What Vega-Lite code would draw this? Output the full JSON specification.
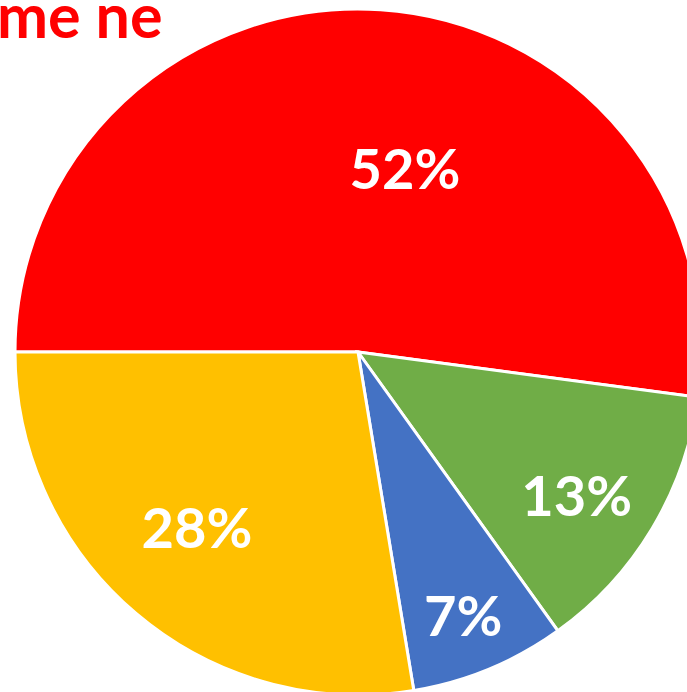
{
  "$schema": "https://vega.github.io/schema/vega-lite/v6.json",
  "width": 716,
  "height": 704,
  "autosize": "none",
  "padding": 0,
  "background": "white",
  "title": {"text": "me ne", "anchor": "start", "orient": "top", "frame": "group", "offset": -99, "baseline": "alphabetic", "dx": -3, "font": "Lato", "fontSize": 61, "fontWeight": "bold", "color": "#FF0000", "zindex": 1},
  "data": {"values": [
    {"cat": "A", "value": 0.521, "order": 1},
    {"cat": "B", "value": 0.130, "order": 2},
    {"cat": "C", "value": 0.073, "order": 3},
    {"cat": "D", "value": 0.276, "order": 4}
  ]},
  "encoding": {
    "theta": {"field": "value", "type": "quantitative", "stack": true, "scale": {"range": [4.71239, 10.99557]}},
    "order": {"field": "order", "type": "ordinal"}
  },
  "layer": [
    {
      "mark": {"type": "arc", "outerRadius": 343, "stroke": "white", "strokeWidth": 3},
      "encoding": {
        "color": {"field": "cat", "type": "nominal", "legend": null, "scale": {"domain": ["A", "B", "C", "D"], "range": ["#FF0000", "#70AD47", "#4472C4", "#FFC000"]}}
      }
    },
    {
      "mark": {"type": "text", "radius": 181, "dx": 35, "dy": 1, "font": "Lato", "fontSize": 56, "fontWeight": "bold", "color": "white", "baseline": "middle", "align": "center"},
      "encoding": {"text": {"condition": {"test": "datum.cat === 'A'", "field": "value", "format": ".0%"}, "value": ""}}
    },
    {
      "mark": {"type": "text", "radius": 262, "dx": -6, "dy": 12, "font": "Lato", "fontSize": 56, "fontWeight": "bold", "color": "white", "baseline": "middle", "align": "center"},
      "encoding": {"text": {"condition": {"test": "datum.cat === 'B'", "field": "value", "format": ".0%"}, "value": ""}}
    },
    {
      "mark": {"type": "text", "radius": 285.5, "dx": -4, "dy": 3, "font": "Lato", "fontSize": 56, "fontWeight": "bold", "color": "white", "baseline": "middle", "align": "center"},
      "encoding": {"text": {"condition": {"test": "datum.cat === 'C'", "field": "value", "format": ".0%"}, "value": ""}}
    },
    {
      "mark": {"type": "text", "radius": 239.5, "dx": -6, "dy": -4, "font": "Lato", "fontSize": 56, "fontWeight": "bold", "color": "white", "baseline": "middle", "align": "center"},
      "encoding": {"text": {"condition": {"test": "datum.cat === 'D'", "field": "value", "format": ".0%"}, "value": ""}}
    }
  ]
}
